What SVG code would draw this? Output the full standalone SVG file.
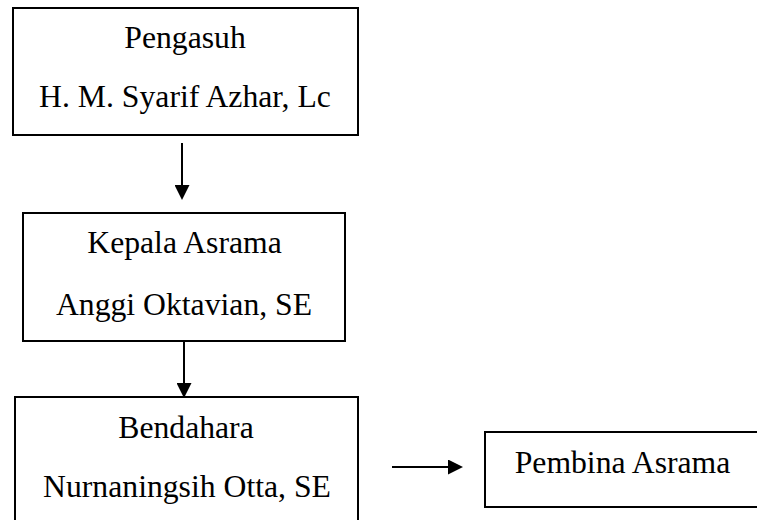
<svg xmlns="http://www.w3.org/2000/svg" width="757" height="520" viewBox="0 0 757 520">
<style>
.box{fill:#fff;stroke:#000;stroke-width:2}
.t{font-family:"Liberation Serif","Times New Roman",serif;font-size:31.7px;fill:#000;text-anchor:middle}
.c{stroke:#000;stroke-width:2;fill:none}
</style>
<defs>
<marker id="ah" viewBox="0 0 15 15" refX="2" refY="7.5" markerWidth="15" markerHeight="15" markerUnits="userSpaceOnUse" orient="auto">
<path d="M0,0 L15,7.5 L0,15 Z" fill="#000"/>
</marker>
</defs>
<rect width="757" height="520" fill="#fff"/>
<g id="pengasuh">
<rect class="box" x="13" y="8" width="345" height="127"/>
<text class="t" x="185" y="48">Pengasuh</text>
<text class="t" x="185" y="107">H. M. Syarif Azhar, Lc</text>
</g>
<g id="kepala">
<rect class="box" x="23" y="213" width="322" height="128"/>
<text class="t" x="184.5" y="253">Kepala Asrama</text>
<text class="t" x="184" y="315">Anggi Oktavian, SE</text>
</g>
<g id="bendahara">
<rect class="box" x="15" y="397" width="343" height="135"/>
<text class="t" x="186" y="438">Bendahara</text>
<text class="t" x="187" y="497">Nurnaningsih Otta, SE</text>
</g>
<g id="pembina">
<rect class="box" x="485" y="432" width="300" height="75"/>
<text class="t" x="622.5" y="473">Pembina Asrama</text>
</g>
<g id="connectors">
<line class="c" x1="182" y1="143" x2="182" y2="187" marker-end="url(#ah)"/>
<line class="c" x1="184" y1="341" x2="184" y2="385" marker-end="url(#ah)"/>
<line class="c" x1="392" y1="467" x2="450" y2="467" marker-end="url(#ah)"/>
</g>
</svg>
